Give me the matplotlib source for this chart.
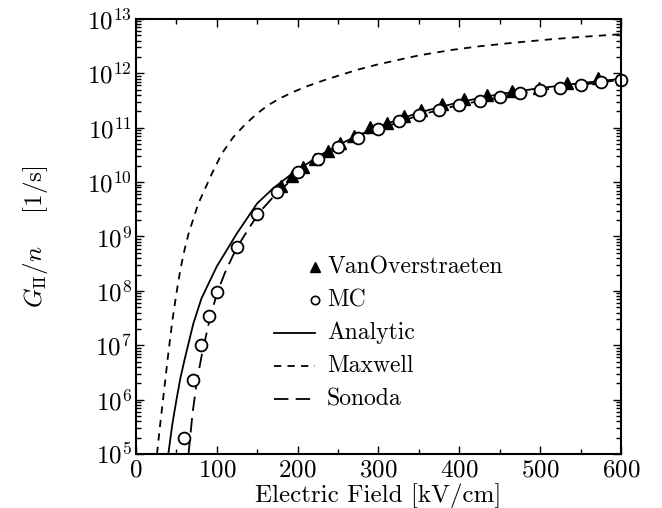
import numpy as np
import matplotlib
matplotlib.use('Agg')
import matplotlib.pyplot as plt
from matplotlib.ticker import MultipleLocator, LogLocator, NullFormatter

plt.rcParams['font.family'] = 'serif'
plt.rcParams['font.serif'] = ['cmr10']
plt.rcParams['mathtext.fontset'] = 'cm'
plt.rcParams['axes.formatter.use_mathtext'] = True

# impact ionization rate per carrier, stored as log10(G/n) in 1/s
# Monte Carlo points
mc_field = [60, 70, 80, 90, 100, 125, 150, 175, 200, 225, 250, 275, 300,
            325, 350, 375, 400, 425, 450, 475, 500, 525, 550, 575, 600]
mc_log = [5.29, 6.36, 7.00, 7.53, 7.98, 8.81, 9.41, 9.82, 10.19, 10.42, 10.65,
          10.82, 10.98, 11.12, 11.23, 11.33, 11.42, 11.50, 11.56, 11.63, 11.69,
          11.74, 11.79, 11.85, 11.88]

# VanOverstraeten measurements
vo_field = [180, 193, 207, 222, 237, 253, 270, 289, 310, 331, 353, 378, 406,
            434, 465, 499, 533, 571]
vo_log = [9.93, 10.12, 10.28, 10.43, 10.57, 10.72, 10.85, 11.01, 11.09, 11.22,
          11.33, 11.43, 11.52, 11.60, 11.68, 11.74, 11.83, 11.91]

# model curves
analytic_field = [40, 45, 50, 55, 61, 71, 81, 100, 125, 150, 170, 190, 200,
                  225, 250, 275, 300, 350, 400, 450, 500, 550, 600]
analytic_log = [5.0, 5.55, 5.99, 6.40, 6.79, 7.40, 7.86, 8.45, 9.06, 9.61,
                9.89, 10.12, 10.22, 10.47, 10.68, 10.86, 11.02, 11.28, 11.47,
                11.62, 11.73, 11.82, 11.90]

maxwell_field = [26, 30, 35, 40, 45, 50, 55, 60, 65, 77, 94, 106, 120, 135,
                 149, 163, 178, 195, 211, 232, 253, 275, 298, 325, 350, 390,
                 426, 465, 508, 550, 600]
maxwell_log = [5.0, 5.55, 6.2, 6.85, 7.45, 7.95, 8.4, 8.75, 9.05, 9.6, 10.16,
               10.52, 10.82, 11.06, 11.25, 11.41, 11.54, 11.66, 11.76, 11.87,
               11.97, 12.07, 12.16, 12.25, 12.33, 12.43, 12.50, 12.56, 12.62,
               12.67, 12.72]

sonoda_field = [65, 70, 75, 81, 90, 100, 110, 120, 130, 141, 153, 170, 188,
                200, 225, 250, 275, 300, 350, 400, 450, 500, 550, 600]
sonoda_log = [5.0, 5.75, 6.3, 6.79, 7.40, 7.95, 8.33, 8.65, 8.92, 9.18, 9.45,
              9.73, 9.98, 10.15, 10.42, 10.64, 10.82, 10.97, 11.23, 11.42,
              11.56, 11.69, 11.79, 11.88]

decades = list(range(5, 14))


def rate(vals):
    return np.power(10.0, vals)


fig = plt.figure(figsize=(6.62, 5.08), dpi=100)
ax = fig.add_axes([0.2054, 0.1063, 0.7326, 0.8563])

ax.plot(analytic_field, rate(analytic_log), color='black', lw=1.3, ls='-')
ax.plot(maxwell_field, rate(maxwell_log), color='black', lw=1.3,
        ls=(0, (4, 3.5)))
ax.plot(sonoda_field, rate(sonoda_log), color='black', lw=1.3,
        ls=(0, (8, 4)))
ax.plot(vo_field, rate(vo_log), ls='none', marker='^', ms=8,
        color='black', clip_on=False)
ax.plot(mc_field, rate(mc_log), ls='none', marker='o', ms=8.5, mfc='white',
        mec='black', mew=1.3, clip_on=False)

ax.set_yscale('log')
ax.set_xlim(0, 600)
ax.set_ylim(1e5, 1e13)
ax.xaxis.set_major_locator(MultipleLocator(100))
ax.xaxis.set_minor_locator(MultipleLocator(50))
ax.set_yticks(rate(decades))
ax.yaxis.set_minor_locator(LogLocator(base=10, subs=np.arange(2, 10), numticks=20))
ax.yaxis.set_minor_formatter(NullFormatter())
ax.set_ylim(1e5, 1e13)

ax.tick_params(which='both', direction='in', top=True, right=True,
               labelsize=18, width=1.0)
ax.tick_params(which='major', length=6)
ax.tick_params(axis='x', which='major', pad=4)
ax.tick_params(axis='y', which='major', pad=3)
ax.tick_params(which='minor', length=3.5)
for sp in ax.spines.values():
    sp.set_linewidth(1.5)

ax.set_xlabel('Electric Field [kV/cm]', fontsize=18)
ax.set_ylabel(r'$G_{\rm II}/n$    [1/s]', fontsize=18)
ax.xaxis.set_label_coords(0.5, -0.066)
ax.yaxis.set_label_coords(-0.178, 0.5)

# legend with markers set just before the labels
rows = [0.430, 0.354, 0.278, 0.202, 0.126]
names = ['VanOverstraeten', 'MC', 'Analytic', 'Maxwell', 'Sonoda']
tx = 0.394
ax.plot([0.369], [rows[0]], transform=ax.transAxes, marker='^', ms=7,
        color='black', ls='none')
ax.plot([0.369], [rows[1]], transform=ax.transAxes, marker='o', ms=6,
        mfc='white', mec='black', mew=1.2, ls='none')
ax.plot([0.285, 0.369], [rows[2]] * 2, transform=ax.transAxes,
        color='black', lw=1.3, ls='-')
ax.plot([0.285, 0.369], [rows[3]] * 2, transform=ax.transAxes,
        color='black', lw=1.3, ls=(0, (4, 3.5)))
ax.plot([0.285, 0.369], [rows[4]] * 2, transform=ax.transAxes,
        color='black', lw=1.3, ls=(0, (8, 4)))
for y, name in zip(rows, names):
    ax.text(tx, y, name, transform=ax.transAxes, fontsize=17,
            va='center', ha='left')

fig.savefig('out.png', dpi=100)
